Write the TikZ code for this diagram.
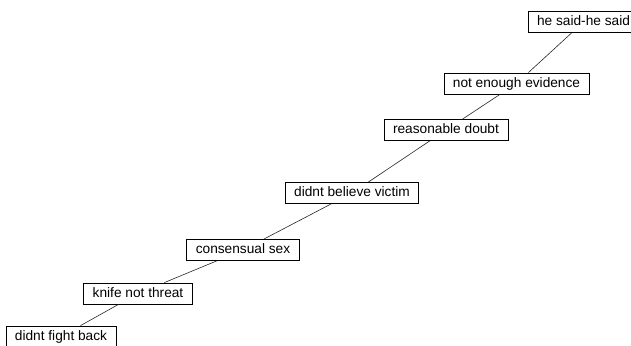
\documentclass[tikz,border=0pt]{standalone}
\usepackage{fontspec}
\setmainfont{Liberation Sans}
\usepackage{tikz}
\tikzset{excuse/.style={draw, line width=0.8pt, inner xsep=9pt, inner ysep=0pt,
    minimum height=21pt, text height=10pt, text depth=3pt,
    font=\fontsize{13.7}{16}\selectfont},
  link/.style={line width=0.6pt, black!85}}

\begin{document}
\begin{tikzpicture}[x=1pt,y=-1pt]
        \useasboundingbox (0,0) rectangle (631,345);
        \clip (0,0) rectangle (631,345);
        \node[excuse] (hesaid) at (583.5,22) {he said-he said};
        \node[excuse] (evidence) at (516.5,83.5) {not enough evidence};
        \node[excuse] (doubt) at (446,130) {reasonable doubt};
        \node[excuse] (victim) at (352,193) {didnt believe victim};
        \node[excuse] (consent) at (243,250) {consensual sex};
        \node[excuse] (knife) at (138,293.5) {knife not threat};
        \node[excuse] (fight) at (61,336.5) {didnt fight back};
        \draw[link] (hesaid) edge (evidence)
        (evidence) edge (doubt)
        (doubt) edge (victim)
        (victim) edge (consent)
        (consent) edge (knife)
        (knife) edge (fight);
    \end{tikzpicture}
\end{document}
